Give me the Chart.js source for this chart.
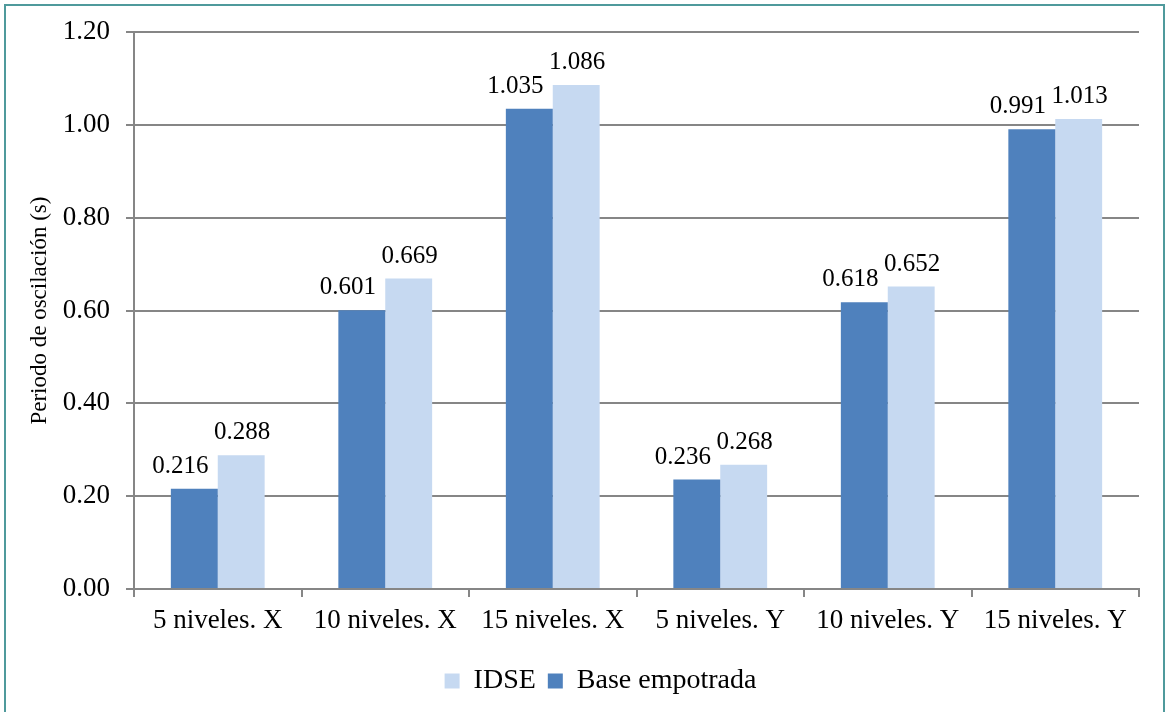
<!DOCTYPE html>
<html><head><meta charset="utf-8">
<script src="https://cdn.jsdelivr.net/npm/chart.js@4"></script>
<style>
html,body{margin:0;padding:0;background:#fff;}
#frame{position:absolute;left:4px;top:4px;width:1161px;height:712px;border-top:2px solid #4f9a9c;border-left:2px solid #4f9a9c;border-right:2px solid #4f9a9c;box-sizing:border-box;}
#wrap{position:absolute;left:0;top:0;width:1169px;height:712px;}
</style></head>
<body>
<div id="frame"></div>
<div id="wrap"><canvas id="c" width="1169" height="712"></canvas></div>
<script>
const categories = ["5 niveles. X","10 niveles. X","15 niveles. X","5 niveles. Y","10 niveles. Y","15 niveles. Y"];
const baseEmpotrada = [0.216, 0.601, 1.035, 0.236, 0.618, 0.991];
const idse = [0.288, 0.669, 1.086, 0.268, 0.652, 1.013];
const yTicks = [0, 0.2, 0.4, 0.6, 0.8, 1.0, 1.2];

const SERIF = "'Liberation Serif','Times New Roman',serif";

const labelPlugin = {
  id: 'barLabels',
  afterDatasetsDraw(chart) {
    const ctx = chart.ctx;
    ctx.save();
    ctx.font = "25px " + SERIF;
    ctx.fillStyle = "#000";
    ctx.textAlign = "center";
    ctx.textBaseline = "bottom";
    chart.data.datasets.forEach((ds, di) => {
      const meta = chart.getDatasetMeta(di);
      meta.data.forEach((bar, i) => {
        const dx = di === 0 ? -14 : 1;
        ctx.fillText(ds.data[i].toFixed(3), bar.x + dx, bar.y - 10);
      });
    });
    ctx.restore();
  }
};

const legendShift = {
  id: 'legendShift',
  afterLayout(chart) {
    if (chart.legend) { chart.legend.left += 18; chart.legend.right += 18; }
  }
};

new Chart(document.getElementById('c'), {
  type: 'bar',
  data: {
    labels: categories,
    datasets: [
      {label: 'Base empotrada', data: baseEmpotrada, backgroundColor: '#4f81bd', borderWidth: 0},
      {label: 'IDSE', data: idse, backgroundColor: '#c6d9f1', borderWidth: 0}
    ]
  },
  options: {
    responsive: false,
    animation: false,
    layout: {padding: {left: 26, top: 30, right: 30, bottom: 7}},
    datasets: {bar: {categoryPercentage: 0.56, barPercentage: 1.0}},
    plugins: {
      legend: {
        position: 'bottom',
        reverse: true,
        labels: {font: {family: SERIF, size: 28}, color: '#000', boxWidth: 15, boxHeight: 15, padding: 12}
      },
      tooltip: {enabled: false}
    },
    scales: {
      x: {
        offset: true,
        grid: {display: true, drawOnChartArea: false, color: '#868686', lineWidth: 2, tickLength: 8, offset: true},
        border: {color: '#868686', width: 2},
        ticks: {font: {family: SERIF, size: 27}, color: '#000', padding: 8, maxRotation: 0},
        afterFit(s) { s.height = 66; }
      },
      y: {
        min: 0, max: 1.2,
        afterBuildTicks(s) { s.ticks = yTicks.map(v => ({value: v})); },
        grid: {color: '#868686', lineWidth: 2, tickLength: 8},
        border: {color: '#868686', width: 2},
        ticks: {font: {family: SERIF, size: 27}, color: '#000', padding: 16, callback: v => Number(v).toFixed(2)},
        title: {display: true, text: 'Periodo de oscilación (s)', font: {family: SERIF, size: 23}, color: '#000', padding: {top: 0, bottom: 10}},
        afterFit(s) { s.width = 108; }
      }
    }
  },
  plugins: [labelPlugin, legendShift]
});
</script>
</body></html>
